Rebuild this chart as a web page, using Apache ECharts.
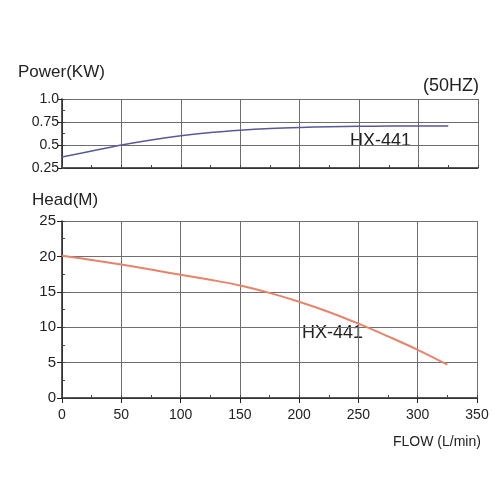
<!DOCTYPE html>
<html><head><meta charset="utf-8">
<script src="https://cdn.jsdelivr.net/npm/echarts@6/dist/echarts.min.js"></script>
<style>html,body{margin:0;padding:0;background:#fff}#c{width:501px;height:500px}</style>
</head><body><div id="c"></div>
<script>
// Flow values (L/min)
const flow = [0, 25, 50, 75, 100, 125, 150, 175, 200, 225, 250, 275, 300, 325];
// Power (KW)
const power = [0.37, 0.435, 0.50, 0.555, 0.60, 0.635, 0.66, 0.678, 0.69, 0.698, 0.703, 0.706, 0.707, 0.706];
// Head (M)
const head = [20.1, 19.5, 18.85, 18.15, 17.4, 16.7, 15.9, 14.85, 13.6, 12.15, 10.5, 8.7, 6.8, 4.7];
const modelName = 'HX-441';

const FONT = '"Liberation Sans", Arial, sans-serif';
const gridColor = '#6e6e6e';
const axisColor = '#222';

function mainX(gi, showLabel) {
  return {
    type: 'value', gridIndex: gi, min: 0, max: 350, interval: 50, position: 'bottom',
    axisLine: { show: true, lineStyle: { color: axisColor, width: 1.5 } },
    axisTick: { show: showLabel, length: 5, lineStyle: { color: axisColor } },
    axisLabel: { show: showLabel, fontFamily: FONT, fontSize: 14, color: '#222', margin: 10 },
    splitLine: { show: true, lineStyle: { color: gridColor, width: 1 } }
  };
}
function minorX(gi) {
  return {
    type: 'value', gridIndex: gi, min: 0, max: 350, interval: 25, position: 'bottom',
    axisLine: { show: false }, axisLabel: { show: false }, splitLine: { show: false },
    axisTick: { show: true, inside: true, length: 3, lineStyle: { color: '#444' } }
  };
}

const chart = echarts.init(document.getElementById('c'));
chart.setOption({
  animation: false,
  backgroundColor: '#fff',
  grid: [
    { left: 62, right: 23, top: 99, height: 69 },
    { left: 62, right: 24, top: 221, height: 177 }
  ],
  xAxis: [ mainX(0, false), minorX(0), mainX(1, true), minorX(1) ],
  yAxis: [
    {
      type: 'value', gridIndex: 0, min: 0.25, max: 1.0, interval: 0.25, position: 'left',
      axisLine: { show: true, lineStyle: { color: axisColor, width: 1.5 } },
      axisTick: { show: true, length: 4, lineStyle: { color: axisColor } },
      axisLabel: { fontFamily: FONT, fontSize: 14, color: '#222', margin: 3,
        formatter: v => (v === 1 ? '1.0' : String(v)) },
      splitLine: { show: true, lineStyle: { color: gridColor, width: 1 } }
    },
    {
      type: 'value', gridIndex: 0, min: 0.25, max: 1.0, interval: 0.125, position: 'left',
      axisLine: { show: false }, axisLabel: { show: false }, splitLine: { show: false },
      axisTick: { show: true, inside: true, length: 3, lineStyle: { color: '#444' } }
    },
    {
      type: 'value', gridIndex: 1, min: 0, max: 25, interval: 5, position: 'left',
      axisLine: { show: true, lineStyle: { color: axisColor, width: 1.5 } },
      axisTick: { show: true, length: 5, lineStyle: { color: axisColor } },
      axisLabel: { fontFamily: FONT, fontSize: 15, color: '#222', margin: 6 },
      splitLine: { show: true, lineStyle: { color: gridColor, width: 1 } }
    },
    {
      type: 'value', gridIndex: 1, min: 0, max: 25, interval: 2.5, position: 'left',
      axisLine: { show: false }, axisLabel: { show: false }, splitLine: { show: false },
      axisTick: { show: true, inside: true, length: 3, lineStyle: { color: '#444' } }
    }
  ],
  series: [
    {
      type: 'line', xAxisIndex: 0, yAxisIndex: 0, smooth: 0.4, showSymbol: false,
      lineStyle: { color: '#565a98', width: 1.5 },
      data: flow.map((f, i) => [f, power[i]])
    },
    {
      type: 'line', xAxisIndex: 2, yAxisIndex: 2, smooth: 0.4, showSymbol: false,
      lineStyle: { color: '#e6846a', width: 2 },
      data: flow.map((f, i) => [f, head[i]])
    }
  ],
  graphic: [
    { type: 'text', left: 18, top: 64, style: { text: 'Power(KW)', font: '17px ' + FONT, fill: '#222' } },
    { type: 'text', left: 423, top: 77, style: { text: '(50HZ)', font: '18px ' + FONT, fill: '#222' } },
    { type: 'text', left: 350, top: 132, style: { text: modelName, font: '18px ' + FONT, fill: '#222' } },
    { type: 'text', left: 32, top: 192, style: { text: 'Head(M)', font: '17px ' + FONT, fill: '#222' } },
    { type: 'text', left: 302, top: 324, style: { text: modelName, font: '18px ' + FONT, fill: '#222' } },
    { type: 'text', left: 393, top: 435, style: { text: 'FLOW (L/min)', font: '14px ' + FONT, fill: '#222' } }
  ]
});
</script>
</body></html>
